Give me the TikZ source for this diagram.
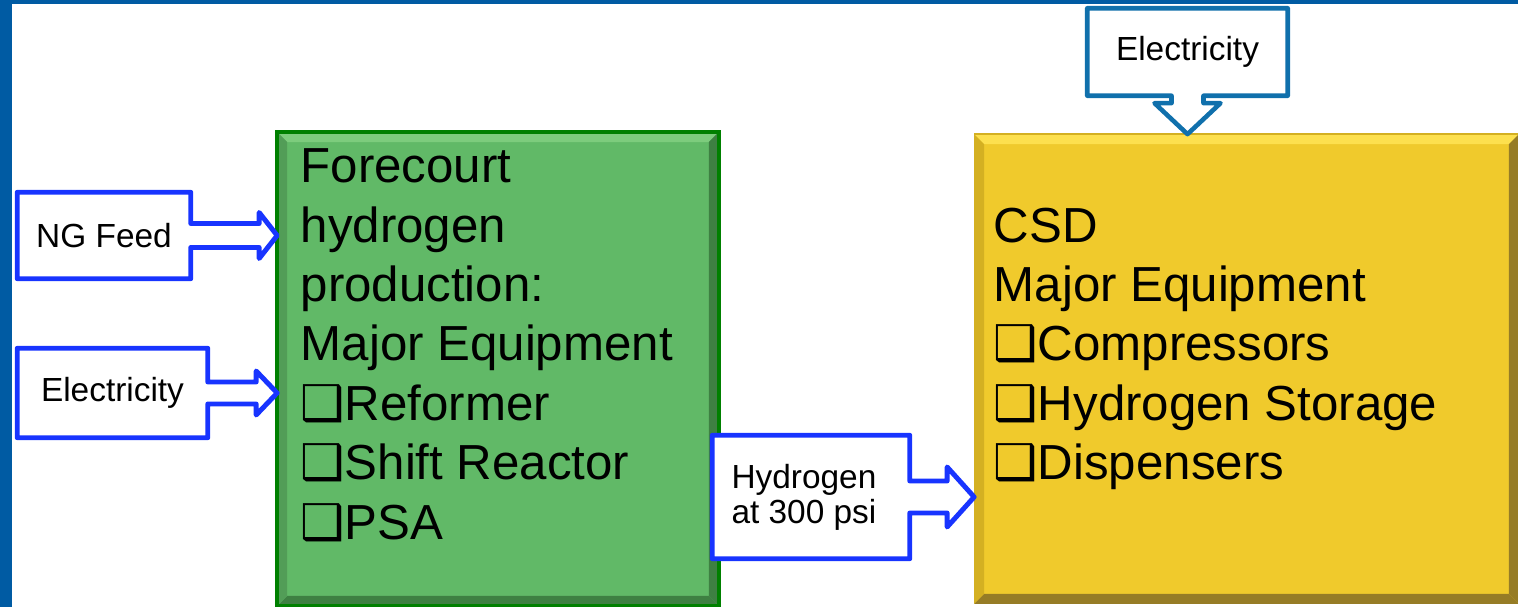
\documentclass[tikz,border=0pt]{standalone}
\usepackage{fontspec}
\setmainfont{Liberation Sans}
\newfontfamily\dingfont{DejaVu Sans}
\usepackage{tikz}
\usetikzlibrary{positioning, calc}
\usepackage{xcolor}

\definecolor{frameblue}{RGB}{0,91,163}
\definecolor{feedblue}{RGB}{24,52,255}
\definecolor{powerblue}{RGB}{16,112,172}
\definecolor{prodgreen}{RGB}{97,185,103}
\definecolor{prodedge}{RGB}{0,128,0}
\definecolor{prodlight}{RGB}{125,204,125}
\definecolor{proddark}{RGB}{62,128,66}
\definecolor{csdyellow}{RGB}{240,202,44}
\definecolor{csdlight}{RGB}{253,224,78}
\definecolor{csddark}{RGB}{150,124,38}
\definecolor{csdside}{RGB}{212,176,34}

\newcommand{\chk}{{\dingfont\char"2751}}

\begin{document}
\begin{tikzpicture}[
x=0.01cm, y=-0.01cm,
mainbox/.style={inner sep=0pt},
bigtext/.style={inner sep=0pt, align=left, font=\fontsize{14}{16.9}\selectfont},
callbox/.style={inner sep=0pt, align=left, font=\fontsize{9.5}{9.9}\selectfont},
callline/.style={line width=1.4pt, line join=round, fill=white}
]
\useasboundingbox (0,0) rectangle (1518,607);

% frame
\fill[frameblue] (0,0) rectangle (12,607);
\fill[frameblue] (0,0) rectangle (1518,4);

% main boxes
\node[mainbox, fill=prodgreen, minimum width=4.4cm, minimum height=4.72cm] (prod) at (498,369) {};
\node[mainbox, fill=csdyellow, minimum width=5.43cm, minimum height=4.68cm] (csd) at (1246.5,369) {};

% bevels
\fill[prodlight] (prod.north west) -- (prod.north east) -- ([shift={(-10,10)}]prod.north east) -- ([shift={(10,10)}]prod.north west) -- cycle;
\fill[proddark] (prod.north east) -- (prod.south east) -- ([shift={(-10,-10)}]prod.south east) -- ([shift={(-10,10)}]prod.north east) -- cycle;
\fill[proddark] (prod.south west) -- (prod.south east) -- ([shift={(-10,-10)}]prod.south east) -- ([shift={(10,-10)}]prod.south west) -- cycle;
\fill[prodgreen!85!black] (prod.north west) -- (prod.south west) -- ([shift={(10,-10)}]prod.south west) -- ([shift={(10,10)}]prod.north west) -- cycle;
\draw[prodedge, line width=1.2pt] (prod.north west) rectangle (prod.south east);

\fill[csdlight] (csd.north west) -- (csd.north east) -- ([shift={(-10,10)}]csd.north east) -- ([shift={(10,10)}]csd.north west) -- cycle;
\fill[csddark] (csd.north east) -- (csd.south east) -- ([shift={(-10,-10)}]csd.south east) -- ([shift={(-10,10)}]csd.north east) -- cycle;
\fill[csddark] (csd.south west) -- (csd.south east) -- ([shift={(-10,-10)}]csd.south east) -- ([shift={(10,-10)}]csd.south west) -- cycle;
\fill[csdside] (csd.north west) -- (csd.south west) -- ([shift={(10,-10)}]csd.south west) -- ([shift={(10,10)}]csd.north west) -- cycle;
\draw[csdside, line width=0.6pt] (csd.north west) -- (csd.north east);

% texts of the main boxes
\node[bigtext, anchor=north west] (prodtext) at (300,148) {Forecourt\\hydrogen\\production:\\Major Equipment\\\chk Reformer\\\chk Shift Reactor\\\chk PSA};
\node[bigtext, anchor=north west] (csdtext) at (993,207) {CSD\\Major Equipment\\\chk Compressors\\\chk Hydrogen Storage\\\chk Dispensers};

% callout frames (no text yet)
\coordinate (ngfeed) at (104,235.5);
\coordinate (elec) at (112.5,393);
\coordinate (hydro) at (811,497);
\coordinate (power) at (1187.5,52);
\node[minimum width=1.72cm, minimum height=0.85cm] (ngbox) at (ngfeed) {};
\node[minimum width=1.89cm, minimum height=0.88cm] (elecbox) at (elec) {};
\node[minimum width=1.96cm, minimum height=1.22cm] (hydrobox) at (hydro) {};
\node[minimum width=1.99cm, minimum height=0.86cm] (powerbox) at (power) {};

\foreach \src/\dst/\sh/\hh/\hl in {ngbox/prod/12/23/18, elecbox/prod/11/22/21, hydrobox/csd/16/30/27}
{
\coordinate (tip) at (\src.east -| \dst.west);
\draw[callline, draw=feedblue] (\src.north east) -- (\src.north west) -- (\src.south west) -- (\src.south east)
  -- ($(\src.east)+(0,\sh)$) -- ($(tip)+(-\hl,\sh)$) -- ($(tip)+(-\hl,\hh)$) -- (tip)
  -- ($(tip)+(-\hl,-\hh)$) -- ($(tip)+(-\hl,-\sh)$) -- ($(\src.east)+(0,-\sh)$) -- cycle;
}

\coordinate (ptip) at (powerbox.south |- csd.north);
\draw[callline, draw=powerblue, line width=1.3pt] (powerbox.south east) -- (powerbox.north east) -- (powerbox.north west) -- (powerbox.south west)
  -- ($(powerbox.south)+(-16,0)$) -- ($(ptip)+(-16,-31)$) -- ($(ptip)+(-33,-31)$) -- (ptip)
  -- ($(ptip)+(33,-31)$) -- ($(ptip)+(16,-31)$) -- ($(powerbox.south)+(16,0)$) -- cycle;

% callout texts
\node[callbox] (ngtext) at (ngfeed) {NG Feed};
\node[callbox] (electext) at (elec) {Electricity};
\node[callbox, xshift=-2pt] (hydrotext) at (hydro) {Hydrogen\\at 300 psi};
\node[callbox] (powertext) at (power) {Electricity};

\end{tikzpicture}
\end{document}
